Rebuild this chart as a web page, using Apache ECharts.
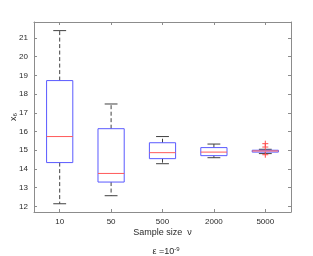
<!DOCTYPE html>
<html>
<head>
<meta charset="utf-8">
<script src="https://cdn.jsdelivr.net/npm/echarts@6/dist/echarts.min.js"></script>
<style>html,body{margin:0;padding:0;background:#fff;}#c{width:313px;height:256px;}</style>
</head>
<body>
<div id="c"></div>
<script>
const categories = ['10', '50', '500', '2000', '5000'];
const whiskerLow = [12.14, 12.57, 14.28, 14.60, 14.82];
const q1 = [14.34, 13.30, 14.55, 14.71, 14.90];
const median = [15.73, 13.76, 14.87, 14.90, 14.96];
const q3 = [18.72, 16.15, 15.40, 15.14, 15.00];
const whiskerHigh = [21.39, 17.47, 15.73, 15.33, 15.05];
const outlierCategory = ['5000', '5000', '5000'];
const outlierValue = [15.35, 15.17, 14.76];

const boxData = categories.map((c, i) => [i, whiskerLow[i], q1[i], median[i], q3[i], whiskerHigh[i]]);
const outData = outlierCategory.map((c, i) => [categories.indexOf(c), outlierValue[i]]);

const FONT = 'Liberation Sans, Arial, sans-serif';
const AXC = '#8c8c8c';
const TXT = '#2a2a2a';

function renderBox(params, api) {
  const i = api.value(0);
  const band = api.size([1, 0])[0];
  const hw = band * 0.255;
  const cw = band * 0.125;
  const pLow = api.coord([i, api.value(1)]);
  const pQ1 = api.coord([i, api.value(2)]);
  const pMed = api.coord([i, api.value(3)]);
  const pQ3 = api.coord([i, api.value(4)]);
  const pHigh = api.coord([i, api.value(5)]);
  const x = pMed[0];
  const dash = { stroke: '#404040', lineWidth: 1, lineDash: [4, 2.5] };
  const solid = { stroke: '#404040', lineWidth: 1 };
  return {
    type: 'group',
    children: [
      { type: 'line', shape: { x1: x, y1: pQ3[1], x2: x, y2: pHigh[1] }, style: dash },
      { type: 'line', shape: { x1: x, y1: pQ1[1], x2: x, y2: pLow[1] }, style: dash },
      { type: 'line', shape: { x1: x - cw, y1: pHigh[1], x2: x + cw, y2: pHigh[1] }, style: solid },
      { type: 'line', shape: { x1: x - cw, y1: pLow[1], x2: x + cw, y2: pLow[1] }, style: solid },
      { type: 'rect', shape: { x: x - hw, y: pQ3[1], width: 2 * hw, height: pQ1[1] - pQ3[1] },
        style: { fill: 'none', stroke: '#5a5aff', lineWidth: 1 } },
      { type: 'line', shape: { x1: x - hw, y1: pMed[1], x2: x + hw, y2: pMed[1] },
        style: { stroke: '#ff5a5a', lineWidth: 1 } }
    ]
  };
}

function renderOutlier(params, api) {
  const p = api.coord([api.value(0), api.value(1)]);
  const s = 3;
  const st = { stroke: '#ff4d4d', lineWidth: 1 };
  return {
    type: 'group',
    children: [
      { type: 'line', shape: { x1: p[0] - s, y1: p[1], x2: p[0] + s, y2: p[1] }, style: st },
      { type: 'line', shape: { x1: p[0], y1: p[1] - s, x2: p[0], y2: p[1] + s }, style: st }
    ]
  };
}

const yCommon = {
  type: 'value', min: 11.7, max: 21.85, splitNumber: 10, minInterval: 1, maxInterval: 1,
  splitLine: { show: false },
  axisLine: { show: true, lineStyle: { color: AXC, width: 1 } },
  axisTick: { show: true, inside: true, length: 3, lineStyle: { color: AXC } }
};
const xCommon = {
  type: 'category', data: categories, boundaryGap: true,
  axisLine: { show: true, lineStyle: { color: AXC, width: 1 } },
  axisTick: { show: true, inside: true, length: 3, alignWithLabel: true, lineStyle: { color: AXC } },
  splitLine: { show: false }
};

const chart = echarts.init(document.getElementById('c'), null, { renderer: 'canvas' });
chart.setOption({
  animation: false,
  backgroundColor: '#fff',
  textStyle: { fontFamily: FONT },
  grid: { left: 34, top: 22, right: 22, bottom: 44, containLabel: false, outerBoundsMode: 'none' },
  title: {
    text: 'ε =10{sup|-9}', left: 161, top: 241, textAlign: 'center',
    textStyle: { fontSize: 9, fontWeight: 'normal', color: TXT, fontFamily: FONT,
      rich: { sup: { fontSize: 6, verticalAlign: 'top', padding: [0, 0, 6, 0], color: TXT, fontFamily: FONT } } }
  },
  xAxis: [
    Object.assign({}, xCommon, {
      position: 'bottom',
      axisLabel: { show: true, color: TXT, fontSize: 8, margin: 6, fontFamily: FONT },
      name: 'Sample size  ν', nameLocation: 'middle', nameGap: 16, nameMoveOverlap: false,
      nameTextStyle: { color: TXT, fontSize: 9, fontFamily: FONT }
    }),
    Object.assign({}, xCommon, { position: 'top', axisLabel: { show: false } })
  ],
  yAxis: [
    Object.assign({}, yCommon, {
      position: 'left',
      axisLabel: { show: true, color: TXT, fontSize: 8, margin: 6, fontFamily: FONT,
        showMinLabel: false, showMaxLabel: false },
      name: 'x₆', nameLocation: 'middle', nameGap: 16, nameRotate: 90, nameMoveOverlap: false,
      nameTextStyle: { color: TXT, fontSize: 9, fontFamily: FONT }
    }),
    Object.assign({}, yCommon, { position: 'right', axisLabel: { show: false } })
  ],
  series: [
    { type: 'custom', xAxisIndex: 0, yAxisIndex: 0, data: boxData, renderItem: renderBox,
      encode: { x: 0, y: [1, 2, 3, 4, 5] }, clip: false },
    { type: 'custom', xAxisIndex: 0, yAxisIndex: 0, data: outData, renderItem: renderOutlier,
      encode: { x: 0, y: 1 }, clip: false }
  ]
});
</script>
</body>
</html>
